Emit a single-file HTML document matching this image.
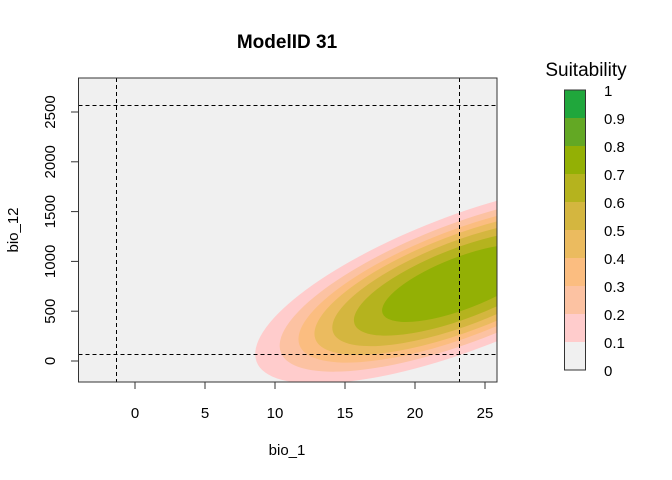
<!DOCTYPE html>
<html><head><meta charset="utf-8"><style>body{margin:0;background:#fff}svg{display:block}text{font-family:"Liberation Sans",sans-serif;fill:#000}</style></head><body>
<svg width="672" height="480" viewBox="0 0 672 480">
<defs><clipPath id="c"><rect x="78.5" y="78" width="418.5" height="304"/></clipPath></defs>
<rect x="78.5" y="78" width="418.5" height="304" fill="#F0F0F0"/>
<g clip-path="url(#c)">
<g transform="translate(462,283) rotate(-21)">
<ellipse rx="220" ry="67" fill="#FFCCCC"/>
<ellipse rx="194" ry="59" fill="#FCC2A2"/>
<ellipse rx="174" ry="53" fill="#FBBD80"/>
<ellipse rx="157" ry="48" fill="#EBBB5F"/>
<ellipse rx="138" ry="42" fill="#D4B63F"/>
<ellipse rx="115" ry="35" fill="#B5B31E"/>
<ellipse rx="85" ry="26" fill="#93B005"/>
</g>
</g>
<g stroke="#000" stroke-dasharray="4,3" fill="none" stroke-width="1">
<line x1="116.5" y1="78" x2="116.5" y2="382"/>
<line x1="459.5" y1="78" x2="459.5" y2="382"/>
<line x1="78.5" y1="105.5" x2="497" y2="105.5"/>
<line x1="78.5" y1="354.5" x2="497" y2="354.5"/>
</g>
<rect x="78.5" y="78" width="418.5" height="304" fill="none" stroke="#333"/>
<g stroke="#333">
<line x1="135" y1="382" x2="135" y2="389"/><line x1="205" y1="382" x2="205" y2="389"/><line x1="275" y1="382" x2="275" y2="389"/><line x1="345" y1="382" x2="345" y2="389"/><line x1="415" y1="382" x2="415" y2="389"/><line x1="485" y1="382" x2="485" y2="389"/>
<line x1="71" y1="361" x2="78.5" y2="361"/><line x1="71" y1="311.2" x2="78.5" y2="311.2"/><line x1="71" y1="261.4" x2="78.5" y2="261.4"/><line x1="71" y1="211.6" x2="78.5" y2="211.6"/><line x1="71" y1="161.8" x2="78.5" y2="161.8"/><line x1="71" y1="112" x2="78.5" y2="112"/>
</g>
<g font-size="15" text-anchor="middle">
<text x="135" y="418">0</text><text x="205" y="418">5</text><text x="275" y="418">10</text><text x="345" y="418">15</text><text x="415" y="418">20</text><text x="485" y="418">25</text>
<text transform="translate(55,361) rotate(-90)">0</text>
<text transform="translate(55,311.2) rotate(-90)">500</text>
<text transform="translate(55,261.4) rotate(-90)">1000</text>
<text transform="translate(55,211.6) rotate(-90)">1500</text>
<text transform="translate(55,161.8) rotate(-90)">2000</text>
<text transform="translate(55,112) rotate(-90)">2500</text>
<text x="287" y="455">bio_1</text>
<text transform="translate(18,230) rotate(-90)">bio_12</text>
<text x="287" y="48" font-weight="bold" font-size="19">ModelID 31</text>
<text x="586" y="76" font-size="19">Suitability</text>
</g>
<g>
<rect x="564.5" y="342" width="21" height="28" fill="#F0F0F0"/>
<rect x="564.5" y="314" width="21" height="28" fill="#FFCCCC"/>
<rect x="564.5" y="286" width="21" height="28" fill="#FCC2A2"/>
<rect x="564.5" y="258" width="21" height="28" fill="#FBBD80"/>
<rect x="564.5" y="230" width="21" height="28" fill="#EBBB5F"/>
<rect x="564.5" y="202" width="21" height="28" fill="#D4B63F"/>
<rect x="564.5" y="174" width="21" height="28" fill="#B5B31E"/>
<rect x="564.5" y="146" width="21" height="28" fill="#93B005"/>
<rect x="564.5" y="118" width="21" height="28" fill="#63A824"/>
<rect x="564.5" y="90" width="21" height="28" fill="#20A73C"/>
<rect x="564.5" y="90" width="21" height="280" fill="none" stroke="#333"/>
</g>
<g font-size="15">
<text x="604" y="96">1</text><text x="604" y="124">0.9</text><text x="604" y="152">0.8</text><text x="604" y="180">0.7</text><text x="604" y="208">0.6</text><text x="604" y="236">0.5</text><text x="604" y="264">0.4</text><text x="604" y="292">0.3</text><text x="604" y="320">0.2</text><text x="604" y="348">0.1</text><text x="604" y="376">0</text>
</g>
</svg>
</body></html>
